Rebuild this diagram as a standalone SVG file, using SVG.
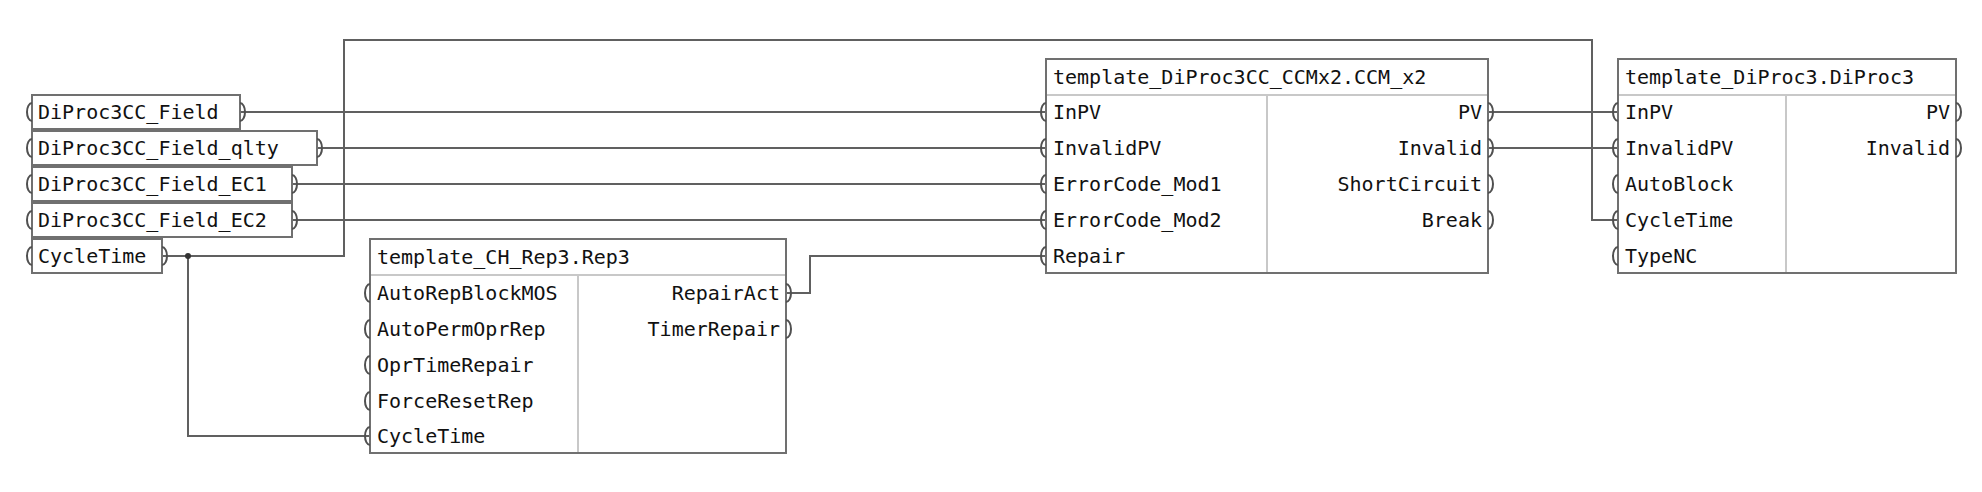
<svg xmlns="http://www.w3.org/2000/svg" width="1982" height="492" viewBox="0 0 1982 492">
<style>
text{font-family:"DejaVu Sans Mono","Liberation Mono",monospace;font-size:20px;fill:#111}
.b{fill:#fff;stroke:#707070;stroke-width:2}
.s{stroke:#c8c8c8;stroke-width:2}
.w{fill:none;stroke:#606060;stroke-width:2}
.p{fill:none;stroke:#505050;stroke-width:2}
.r{text-anchor:end}
</style>
<defs>
<path id="pl" class="p" d="M3,-9 A5,9 0 0 0 3,9"/>
<path id="pr" class="p" d="M-3,-9 A5,9 0 0 1 -3,9"/>
</defs>
<rect width="1982" height="492" fill="#fff"/>
<g id="connectors">
<path class="w" d="M240,112H1046M317,148H1046M292,184H1046M292,220H1046"/>
<path class="w" d="M162,256H344V40H1592V220H1618"/>
<path class="w" d="M188,256V436H370"/>
<circle cx="188" cy="256" r="3" fill="#333"/>
<path class="w" d="M786,293H810V256H1046"/>
<path class="w" d="M1488,112H1618M1488,148H1618"/>
</g>
<g id="in1"><rect class="b" x="32" y="95" width="208" height="34"/><use href="#pl" x="29" y="112"/><use href="#pr" x="243" y="112"/><text x="38" y="119">DiProc3CC_Field</text></g>
<g id="in2"><rect class="b" x="32" y="131" width="285" height="34"/><use href="#pl" x="29" y="148"/><use href="#pr" x="320" y="148"/><text x="38" y="155">DiProc3CC_Field_qlty</text></g>
<g id="in3"><rect class="b" x="32" y="167" width="260" height="34"/><use href="#pl" x="29" y="184"/><use href="#pr" x="295" y="184"/><text x="38" y="191">DiProc3CC_Field_EC1</text></g>
<g id="in4"><rect class="b" x="32" y="203" width="260" height="34"/><use href="#pl" x="29" y="220"/><use href="#pr" x="295" y="220"/><text x="38" y="227">DiProc3CC_Field_EC2</text></g>
<g id="in5"><rect class="b" x="32" y="239" width="130" height="34"/><use href="#pl" x="29" y="256"/><use href="#pr" x="165" y="256"/><text x="38" y="263">CycleTime</text></g>
<g id="rep3">
<rect class="b" x="370" y="239" width="416" height="214"/>
<path class="s" d="M371,275H785M578,276V452"/>
<text x="377" y="264">template_CH_Rep3.Rep3</text>
<use href="#pl" x="367" y="293"/><use href="#pl" x="367" y="329"/><use href="#pl" x="367" y="365"/><use href="#pl" x="367" y="401"/><use href="#pl" x="367" y="436"/>
<use href="#pr" x="789" y="293"/><use href="#pr" x="789" y="329"/>
<text x="377" y="300">AutoRepBlockMOS</text><text x="377" y="336">AutoPermOprRep</text><text x="377" y="372">OprTimeRepair</text><text x="377" y="408">ForceResetRep</text><text x="377" y="443">CycleTime</text>
<text class="r" x="780" y="300">RepairAct</text><text class="r" x="780" y="336">TimerRepair</text>
</g>
<g id="ccm">
<rect class="b" x="1046" y="59" width="442" height="214"/>
<path class="s" d="M1047,95H1487M1267,96V272"/>
<text x="1053" y="84">template_DiProc3CC_CCMx2.CCM_x2</text>
<use href="#pl" x="1043" y="112"/><use href="#pl" x="1043" y="148"/><use href="#pl" x="1043" y="184"/><use href="#pl" x="1043" y="220"/><use href="#pl" x="1043" y="256"/>
<use href="#pr" x="1491" y="112"/><use href="#pr" x="1491" y="148"/><use href="#pr" x="1491" y="184"/><use href="#pr" x="1491" y="220"/>
<text x="1053" y="119">InPV</text><text x="1053" y="155">InvalidPV</text><text x="1053" y="191">ErrorCode_Mod1</text><text x="1053" y="227">ErrorCode_Mod2</text><text x="1053" y="263">Repair</text>
<text class="r" x="1482" y="119">PV</text><text class="r" x="1482" y="155">Invalid</text><text class="r" x="1482" y="191">ShortCircuit</text><text class="r" x="1482" y="227">Break</text>
</g>
<g id="diproc3">
<rect class="b" x="1618" y="59" width="338" height="214"/>
<path class="s" d="M1619,95H1955M1786,96V272"/>
<text x="1625" y="84">template_DiProc3.DiProc3</text>
<use href="#pl" x="1615" y="112"/><use href="#pl" x="1615" y="148"/><use href="#pl" x="1615" y="184"/><use href="#pl" x="1615" y="220"/><use href="#pl" x="1615" y="256"/>
<use href="#pr" x="1959" y="112"/><use href="#pr" x="1959" y="148"/>
<text x="1625" y="119">InPV</text><text x="1625" y="155">InvalidPV</text><text x="1625" y="191">AutoBlock</text><text x="1625" y="227">CycleTime</text><text x="1625" y="263">TypeNC</text>
<text class="r" x="1950" y="119">PV</text><text class="r" x="1950" y="155">Invalid</text>
</g>
</svg>
